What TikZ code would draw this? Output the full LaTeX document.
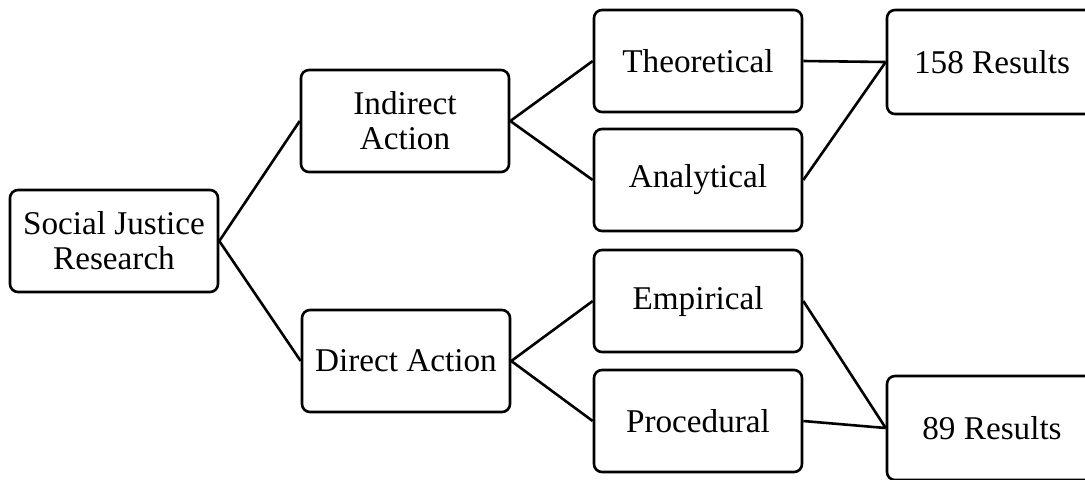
\documentclass[tikz,border=0pt]{standalone}
\usepackage{fontspec}
\setmainfont{Liberation Serif}
\usepackage{tikz}
\usetikzlibrary{positioning}
\tikzset{
  stagebox/.style={
    draw=black,
    rounded corners=4pt,
    line width=1.3pt,
    fill=white,
    minimum width=104pt,
    minimum height=51pt,
    align=center,
    inner sep=3pt,
    font=\fontsize{16.6}{17.5}\selectfont
  },
  resultbox/.style={stagebox, minimum width=105pt, minimum height=52pt},
  link/.style={line width=1.3pt, draw=black}
}
\begin{document}
\begin{tikzpicture}[x=0.5pt, y=-0.5pt]
  \path[use as bounding box, clip] (0,0) rectangle (1085,479);
  \fill[white] (0,0) rectangle (1085,479);

  \node[stagebox] (sjr) at (114,241) {Social Justice\\Research};

  \node[stagebox] (ind) at (405,121) {Indirect\\Action};
  \node[stagebox] (dir) at (406,361) {Direct Action};

  \node[stagebox] (theo) at (698,61) {Theoretical};
  \node[stagebox] (anal) at (698,180) {Analytical};
  \node[stagebox] (emp) at (698,301) {Empirical};
  \node[stagebox] (proc) at (698,421) {Procedural};

  \node[resultbox] (res1) at (992,62) {158 Results};
  \node[resultbox] (res2) at (992,428) {89 Results};

  \draw[link] (sjr.east) -- (ind.west);
  \draw[link] (sjr.east) -- (dir.west);
  \draw[link] (ind.east) -- (theo.west);
  \draw[link] (ind.east) -- (anal.west);
  \draw[link] (dir.east) -- (emp.west);
  \draw[link] (dir.east) -- (proc.west);
  \draw[link] (theo.east) -- (res1.west);
  \draw[link] (anal.east) -- (res1.west);
  \draw[link] (emp.east) -- (res2.west);
  \draw[link] (proc.east) -- (res2.west);
\end{tikzpicture}
\end{document}
